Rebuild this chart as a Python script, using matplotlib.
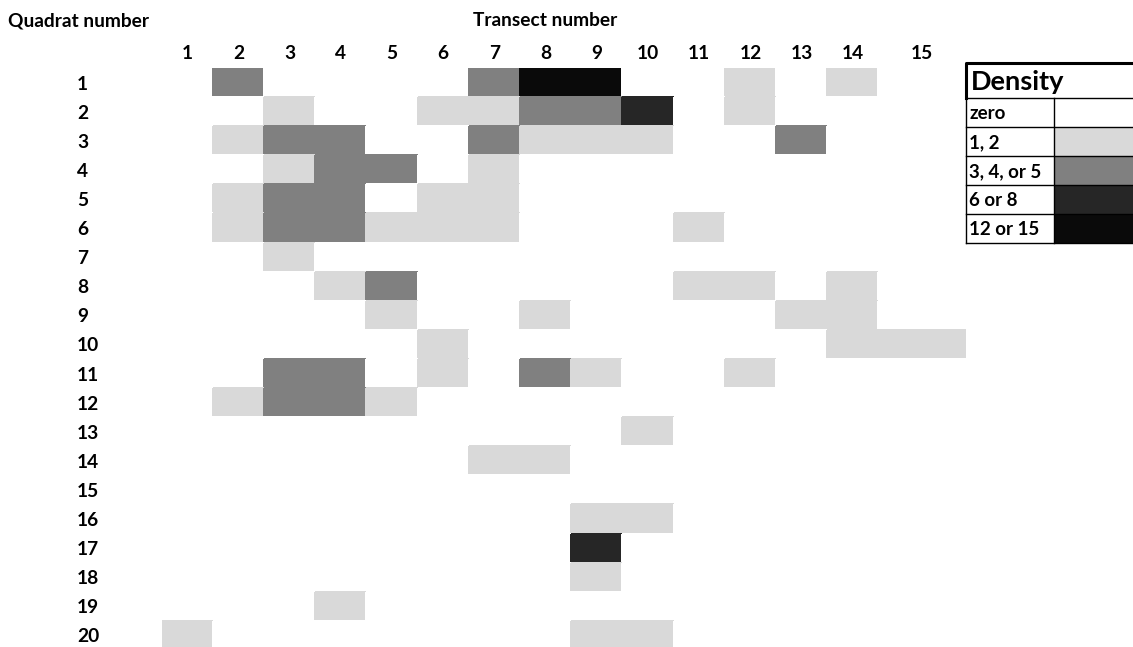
import numpy as np
import matplotlib
matplotlib.use("Agg")
import matplotlib.pyplot as plt
from matplotlib.colors import ListedColormap
from matplotlib.patches import Rectangle

plt.rcParams['font.family'] = ['Lato', 'DejaVu Sans']
plt.rcParams['font.weight'] = 'bold'

# ---- data ----
transects = list(range(1, 16))
quadrats = list(range(1, 21))
legend_labels = ["zero", "1, 2", "3, 4, or 5", "6 or 8", "12 or 15"]
density_colors = ["#FFFFFF", "#D9D9D9", "#808080", "#262626", "#0A0A0A"]

# density class per quadrat (rows) x transect (columns): 0=zero,1=1-2,2=3-5,3=6/8,4=12/15
density_class = [
    # 1 2 3 4 5 6 7 8 9 10 11 12 13 14 15
    [0, 2, 0, 0, 0, 0, 2, 4, 4, 0, 0, 1, 0, 1, 0],  # 1
    [0, 0, 1, 0, 0, 1, 1, 2, 2, 3, 0, 1, 0, 0, 0],  # 2
    [0, 1, 2, 2, 0, 0, 2, 1, 1, 1, 0, 0, 2, 0, 0],  # 3
    [0, 0, 1, 2, 2, 0, 1, 0, 0, 0, 0, 0, 0, 0, 0],  # 4
    [0, 1, 2, 2, 0, 1, 1, 0, 0, 0, 0, 0, 0, 0, 0],  # 5
    [0, 1, 2, 2, 1, 1, 1, 0, 0, 0, 1, 0, 0, 0, 0],  # 6
    [0, 0, 1, 0, 0, 0, 0, 0, 0, 0, 0, 0, 0, 0, 0],  # 7
    [0, 0, 0, 1, 2, 0, 0, 0, 0, 0, 1, 1, 0, 1, 0],  # 8
    [0, 0, 0, 0, 1, 0, 0, 1, 0, 0, 0, 0, 1, 1, 0],  # 9
    [0, 0, 0, 0, 0, 1, 0, 0, 0, 0, 0, 0, 0, 1, 1],  # 10
    [0, 0, 2, 2, 0, 1, 0, 2, 1, 0, 0, 1, 0, 0, 0],  # 11
    [0, 1, 2, 2, 1, 0, 0, 0, 0, 0, 0, 0, 0, 0, 0],  # 12
    [0, 0, 0, 0, 0, 0, 0, 0, 0, 1, 0, 0, 0, 0, 0],  # 13
    [0, 0, 0, 0, 0, 0, 1, 1, 0, 0, 0, 0, 0, 0, 0],  # 14
    [0, 0, 0, 0, 0, 0, 0, 0, 0, 0, 0, 0, 0, 0, 0],  # 15
    [0, 0, 0, 0, 0, 0, 0, 0, 1, 1, 0, 0, 0, 0, 0],  # 16
    [0, 0, 0, 0, 0, 0, 0, 0, 3, 0, 0, 0, 0, 0, 0],  # 17
    [0, 0, 0, 0, 0, 0, 0, 0, 1, 0, 0, 0, 0, 0, 0],  # 18
    [0, 0, 0, 1, 0, 0, 0, 0, 0, 0, 0, 0, 0, 0, 0],  # 19
    [1, 0, 0, 0, 0, 0, 0, 0, 1, 1, 0, 0, 0, 0, 0],  # 20
]

# ---- figure ----
W, H = 1133, 647
fig = plt.figure(figsize=(W / 100, H / 100), dpi=100)

def fx(px):
    return px / W

def fy(py):
    return 1 - py / H

LABEL_FS = 13.8

# grid axes (pixel extents of the reference)
left_px, right_px, top_px, bottom_px = 161.5, 966, 68, 650
ax = fig.add_axes([fx(left_px), fy(bottom_px), fx(right_px - left_px), (bottom_px - top_px) / H])

Z = np.array(density_class)
n_t = len(transects)
x_edges = np.concatenate([np.arange(n_t) + 0.5, [n_t - 0.5 + 1.71]])
y_edges = np.arange(len(quadrats) + 1) + 0.5
cmap = ListedColormap(density_colors)
ax.pcolormesh(x_edges, y_edges, Z, cmap=cmap, vmin=-0.5, vmax=len(density_colors) - 0.5,
              edgecolor='face', linewidth=0.3)
ax.set_xlim(x_edges[0], x_edges[-1])
ax.set_ylim(y_edges[-1], y_edges[0])

x_centers = (x_edges[:-1] + x_edges[1:]) / 2
ax.xaxis.tick_top()
ax.set_xticks(x_centers)
ax.set_xticklabels([str(t) for t in transects], fontsize=LABEL_FS, fontweight='bold')
ax.set_yticks(quadrats)
ax.set_yticklabels([str(q) for q in quadrats], fontsize=LABEL_FS, fontweight='bold', ha='left')
ax.tick_params(axis='x', length=0, pad=4)
ax.tick_params(axis='y', length=0, pad=(left_px - 77) * 0.72)
for s in ax.spines.values():
    s.set_visible(False)

fig.text(fx(8), fy(21), "Quadrat number", fontsize=LABEL_FS, fontweight='bold', ha='left', va='center')
fig.text(fx(545), fy(21), "Transect number", fontsize=LABEL_FS, fontweight='bold', ha='center', va='center')

# ---- legend table ----
lax = fig.add_axes([0, 0, 1, 1])
lax.set_xlim(0, W)
lax.set_ylim(H, 0)
lax.axis('off')
leg_left, leg_div, leg_right = 966, 1054, 1140
title_top, title_bot, row_h = 63, 98, 29
lax.text(leg_left + 5, (title_top + title_bot) / 2 + 1, "Density", fontsize=19.5, fontweight='bold',
         ha='left', va='center')
for i, (lab, col) in enumerate(zip(legend_labels, density_colors)):
    y0 = title_bot + i * row_h
    lax.add_patch(Rectangle((leg_div, y0), leg_right - leg_div, row_h, facecolor=col,
                            edgecolor='none'))
    lax.text(leg_left + 3, y0 + row_h / 2 + 1, lab, fontsize=13.5, fontweight='bold',
             ha='left', va='center')
    lax.plot([leg_left, leg_right], [y0 + row_h, y0 + row_h], color='black', lw=1)
lax.plot([leg_left, leg_right], [title_bot, title_bot], color='black', lw=1)
n_rows = len(legend_labels)
lax.plot([leg_div, leg_div], [title_bot, title_bot + n_rows * row_h], color='black', lw=1)
lax.plot([leg_left, leg_left], [title_bot, title_bot + n_rows * row_h], color='black', lw=1)
lax.plot([leg_left, leg_left, leg_right], [title_bot, title_top, title_top], color='black', lw=2.2)

fig.savefig("out.png", dpi=100)
